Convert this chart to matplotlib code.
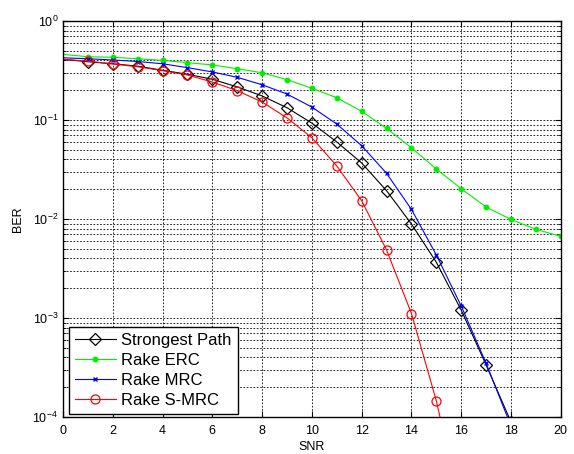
import numpy as np
import matplotlib
matplotlib.use('Agg')
import matplotlib.pyplot as plt
from matplotlib.ticker import LogLocator, NullFormatter

plt.rcParams['font.family'] = ['Liberation Sans', 'DejaVu Sans']
plt.rcParams['mathtext.fontset'] = 'custom'
plt.rcParams['mathtext.rm'] = 'Liberation Sans'
plt.rcParams['mathtext.default'] = 'regular'

snr = np.arange(0, 21)

# BER values (x = 0..20)
ber_strongest = [0.41, 0.388, 0.37, 0.35, 0.318, 0.29, 0.258, 0.216, 0.175, 0.133,
                 0.093, 0.060, 0.0368, 0.0193, 0.0089, 0.00365, 0.0012, 0.000335,
                 8.9e-5, 2.0e-5, 4.0e-6]
ber_erc = [0.46, 0.436, 0.43, 0.416, 0.40, 0.38, 0.36, 0.33, 0.30, 0.256,
           0.209, 0.168, 0.122, 0.0824, 0.0525, 0.032, 0.0202, 0.0132,
           0.0099, 0.00787, 0.00668]
ber_mrc = [0.425, 0.416, 0.404, 0.39, 0.37, 0.338, 0.306, 0.27, 0.227, 0.183,
           0.135, 0.091, 0.055, 0.0289, 0.0125, 0.00433, 0.00132, 0.000348,
           8.1e-5, 1.6e-5, 2.8e-6]
ber_smrc = [0.41, 0.394, 0.368, 0.345, 0.315, 0.285, 0.242, 0.198, 0.152, 0.105,
            0.0662, 0.0343, 0.0153, 0.00486, 0.00111, 0.000145, 1.15e-5,
            6.0e-7, 2.0e-8, 4.0e-10, 5.0e-12]

fig = plt.figure(figsize=(5.74, 4.54), dpi=100)
ax = fig.add_axes([0.1098, 0.0815, 0.8672, 0.8722])

mk = slice(1, None)
ax.semilogy(snr, ber_strongest, '-', color='k', marker='D', mfc='none', ms=6,
            mew=0.9, lw=0.8, markevery=mk, label='Strongest Path')
ax.semilogy(snr, ber_erc, '-', color='#00ee00', marker='o', ms=3.2,
            lw=0.8, markevery=mk, label='Rake ERC')
ax.semilogy(snr, ber_mrc, '-', color='#0000ff', marker='x', ms=3.5,
            mew=1.0, lw=0.8, markevery=mk, label='Rake MRC')
ax.semilogy(snr, ber_smrc, '-', color='#ff0000', marker='o', mfc='none', ms=6.5,
            mew=0.9, lw=0.8, markevery=mk, label='Rake S-MRC')

ax.set_xlim(0, 20)
ax.set_ylim(1e-4, 1)
ax.set_xticks(np.arange(0, 21, 2))
ax.yaxis.set_major_locator(LogLocator(base=10, numticks=10))
ax.yaxis.set_minor_locator(LogLocator(base=10, subs=np.arange(2, 10), numticks=50))
ax.yaxis.set_minor_formatter(NullFormatter())

ax.grid(True, which='major', color='k', linestyle=(0, (2, 2)), lw=0.6)
ax.grid(True, which='minor', axis='y', color='k', linestyle=(0, (2, 2)), lw=0.6)

ax.tick_params(which='both', direction='in', top=True, right=True, labelsize=9)
ax.tick_params(which='major', length=4)
ax.tick_params(axis='x', pad=6)
ax.tick_params(which='minor', length=2)
for s in ax.spines.values():
    s.set_linewidth(1.0)

ax.set_xlabel('SNR', fontsize=9, labelpad=3)
ax.set_ylabel('BER', fontsize=9, labelpad=6)

leg = ax.legend(loc='lower left', bbox_to_anchor=(0.012, 0.008), fontsize=12,
                fancybox=False, framealpha=1, edgecolor='k', borderaxespad=0,
                handlelength=2.45, labelspacing=0.3, borderpad=0.35,
                handletextpad=0.35)
leg.get_frame().set_linewidth(1.0)

fig.savefig('out.png', dpi=100)
